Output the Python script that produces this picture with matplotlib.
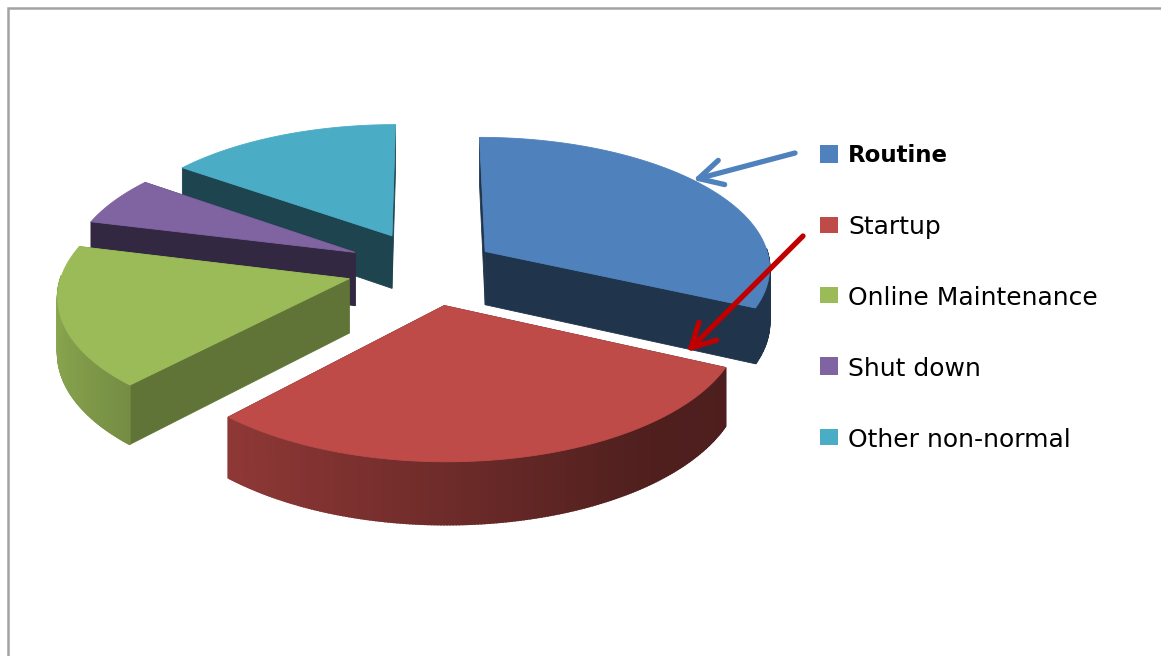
"""Exploded 3D pie of operating modes, with legend and call-out arrows."""

import numpy as np
import matplotlib
matplotlib.use("Agg")
import matplotlib.pyplot as plt
from matplotlib.patches import Polygon, Rectangle

categories = ["Routine", "Startup", "Online Maintenance", "Shut down", "Other non-normal"]
shares = [32.0, 29.8, 17.2, 6.0, 15.0]
colors = ["#4F81BD", "#BE4B48", "#9BBB59", "#8064A2", "#4BACC6"]
wall_shade = [0.40, 0.40, 0.62, 0.40, 0.40]
explode = [0.24, 0.285, 0.285, 0.285, 0.285]

CX, CY = 428, 268
RADIUS = 286
TILT = 0.455
DEPTH = 54
PERSP = 0.11


def project(a, r, z, off):
    """a is clockwise from top in radians, r in radii, z in 0..1 downwards."""
    u = r * np.sin(a) + off[0]
    v = -r * np.cos(a) + off[1]
    p = 1 / (1 - PERSP * v)
    return CX + RADIUS * u * p, CY + RADIUS * TILT * v * p + DEPTH * z * p


def darker(color, f):
    rgb = np.array(matplotlib.colors.to_rgb(color))
    return tuple(rgb * f)


def curve_shade(a):
    return np.interp(np.sin(a), [-1, -0.67, 0, 0.6, 1], [0.88, 0.75, 0.58, 0.42, 0.40])


fig = plt.figure(figsize=(11.61, 6.56), dpi=100)
ax = fig.add_axes([0, 0, 1, 1])
ax.set_xlim(0, 1161)
ax.set_ylim(656, 0)
ax.axis("off")

ax.plot([8, 8, 1161], [656, 8, 8], color="#A3A3A3", lw=1.8, solid_joinstyle="miter")

edges = np.radians(np.cumsum([0] + shares) * 3.6)
slices = []
for i in range(len(shares)):
    mid = (edges[i] + edges[i + 1]) / 2
    slices.append((-np.cos(mid), i))


def add_poly(xs, ys, color, lw=0.6):
    ax.add_patch(Polygon(np.column_stack([xs, ys]), closed=True, facecolor=color,
                         edgecolor=color, lw=lw))


for _, i in sorted(slices):
    a0, a1 = edges[i], edges[i + 1]
    mid = (a0 + a1) / 2
    off = (explode[i] * np.sin(mid), -explode[i] * np.cos(mid))
    wall = darker(colors[i], wall_shade[i])

    # radial walls
    for a in (a1, a0):
        x0, y0 = project(a, 0, 0, off)
        x1, y1 = project(a, 1, 0, off)
        x2, y2 = project(a, 1, 1, off)
        x3, y3 = project(a, 0, 1, off)
        add_poly([x0, x1, x2, x3], [y0, y1, y2, y3], wall)

    # curved outer side, only the part facing the viewer
    steps = np.linspace(a0, a1, 200)
    for s0, s1 in zip(steps[:-1], steps[1:]):
        if -np.cos(s0) < -0.02 and -np.cos(s1) < -0.02:
            continue
        x0, y0 = project(s0, 1, 0, off)
        x1, y1 = project(s1, 1, 0, off)
        x2, y2 = project(s1, 1, 1, off)
        x3, y3 = project(s0, 1, 1, off)
        add_poly([x0, x1, x2, x3], [y0, y1, y2, y3], darker(colors[i], curve_shade(s0)), lw=1.2)

    # top face
    tx, ty = project(steps, 1, 0, off)
    ax0, ay0 = project(a0, 0, 0, off)
    add_poly(np.r_[ax0, tx], np.r_[ay0, ty], colors[i])

# call-out arrows
ax.annotate("", xy=(693, 180), xytext=(795, 153),
            arrowprops=dict(arrowstyle="->,head_length=0.95,head_width=0.5", color="#4F81BD",
                            lw=3.8, shrinkA=0, shrinkB=0, mutation_scale=18))
ax.annotate("", xy=(687, 352), xytext=(803, 236),
            arrowprops=dict(arrowstyle="->,head_length=0.95,head_width=0.5", color="#C00000",
                            lw=3.8, shrinkA=0, shrinkB=0, mutation_scale=18))

# legend
swatch_top = [145, 217, 287, 357, 429]
swatch_h = [18, 16, 16, 18, 16]
text_y = [156, 227, 298, 369, 440]
for name, col, top, h, y in zip(categories, colors, swatch_top, swatch_h, text_y):
    bold = name == "Routine"
    ax.text(848, y, name, fontsize=16.5 if bold else 18, family="DejaVu Sans", va="center",
            ha="left", color="black", fontweight="bold" if bold else "normal")
    ax.add_patch(Rectangle((820, top), 18, h, facecolor=col, edgecolor="none"))

fig.savefig("out.png", dpi=100)
plt.close(fig)
